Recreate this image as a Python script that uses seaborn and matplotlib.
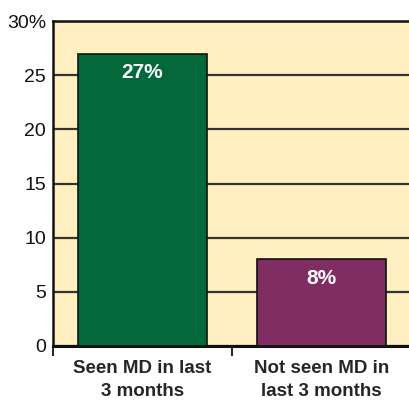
import matplotlib
matplotlib.use("Agg")
import matplotlib.pyplot as plt
import seaborn as sns
import pandas as pd
from matplotlib.ticker import FixedLocator

categories = ["Seen MD in last\n3 months", "Not seen MD in\nlast 3 months"]
percentages = [27, 8]
bar_colors = ["#03693A", "#7F2D62"]
y_ticks = [0, 5, 10, 15, 20, 25, 30]
y_tick_labels = ["0", "5", "10", "15", "20", "25", "30%"]

df = pd.DataFrame({"group": categories, "pct": percentages})

sns.set_theme(style="white")
plt.rcParams["font.family"] = ["Liberation Sans", "DejaVu Sans"]

fig = plt.figure(figsize=(4.09, 4.03), dpi=100)
ax = fig.add_axes([53 / 409, 57 / 403, 1 - 53 / 409, 325 / 403])
ax.set_facecolor("#FFEFC1")

sns.barplot(data=df, x="group", y="pct", hue="group", palette=bar_colors,
            saturation=1, width=0.72, edgecolor="#111111", linewidth=1.2,
            legend=False, ax=ax, zorder=3)

ax.set_ylim(0, 30)
ax.set_xlim(-0.5, 1.49)
ax.set_yticks(y_ticks)
ax.set_yticklabels(y_tick_labels, fontsize=14)
ax.yaxis.grid(True, color="#333333", linewidth=1.6, zorder=0)
ax.set_axisbelow(True)
ax.tick_params(axis="y", length=0, pad=5, colors="#111111")

ax.set_xticks([0, 1])
ax.set_xticklabels(categories, fontsize=13.5, fontweight="bold",
                   linespacing=1.45)
ax.tick_params(axis="x", which="major", length=0, pad=10)
ax.xaxis.set_minor_locator(FixedLocator([-0.5, 0.5, 1.5]))
ax.tick_params(axis="x", which="minor", length=7, width=1.3, color="#111111",
               bottom=True)
ax.set_xlabel("")
ax.set_ylabel("")

for side in ["left", "bottom", "top"]:
    ax.spines[side].set_visible(True)
    ax.spines[side].set_color("#111111")
ax.spines["left"].set_linewidth(1.8)
ax.spines["bottom"].set_linewidth(2.2)
ax.spines["top"].set_linewidth(1.8)
ax.spines["right"].set_visible(False)

for i, v in enumerate(percentages):
    ax.annotate(f"{v}%", (i, v), xytext=(0, -14), textcoords="offset points",
                ha="center", va="center", color="white", fontsize=15,
                fontweight="bold", zorder=5)

fig.savefig("out.png", dpi=100)
